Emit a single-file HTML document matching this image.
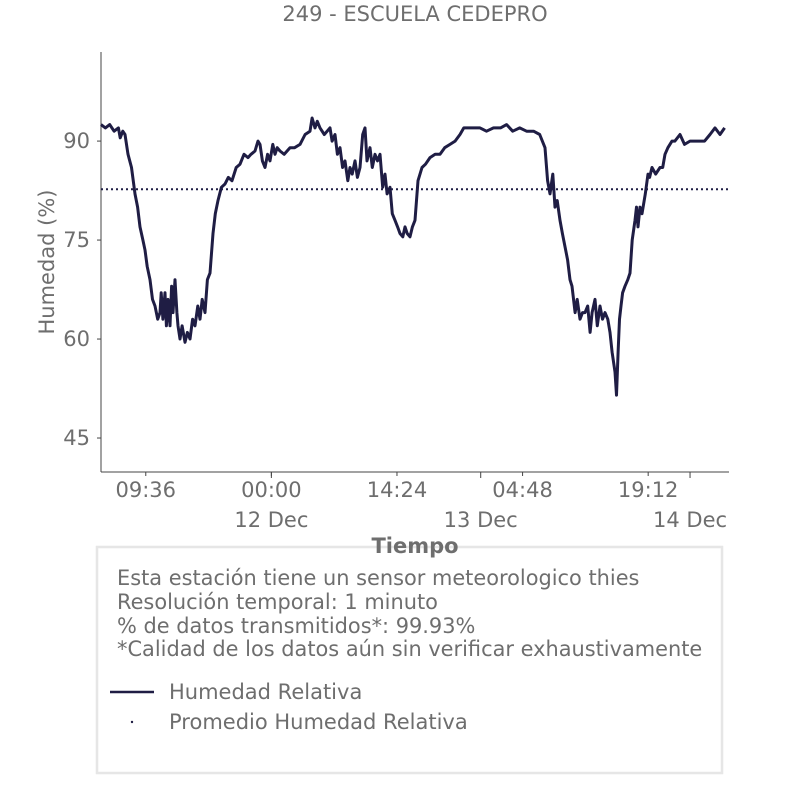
<!DOCTYPE html>
<html><head><meta charset="utf-8"><style>
body{margin:0;background:#fff;font-family:"Liberation Sans","DejaVu Sans",sans-serif}
svg text{font-family:"DejaVu Sans","Liberation Sans",sans-serif;fill:#6e6e6e}
</style></head><body>
<svg id="c" width="806" height="806" xmlns="http://www.w3.org/2000/svg">
<text x="415" y="21" text-anchor="middle" font-size="21">249 - ESCUELA CEDEPRO</text>
<g id="axes"></g>
<g id="plot"></g>
<text transform="translate(54,262) rotate(-90)" text-anchor="middle" font-size="21">Humedad (%)</text>
<rect x="97" y="547" width="625" height="226" fill="#fff" stroke="#e6e6e6" stroke-width="2.5"/>
<text x="415" y="553" text-anchor="middle" font-size="21" font-weight="bold">Tiempo</text>
<g font-size="20.9">
<text x="117" y="585">Esta estación tiene un sensor meteorologico thies</text>
<text x="117" y="609">Resolución temporal: 1 minuto</text>
<text x="117" y="633">% de datos transmitidos*: 99.93%</text>
<text x="117" y="656">*Calidad de los datos aún sin verificar exhaustivamente</text>
</g>
<line x1="110" y1="692" x2="154" y2="692" stroke="#1f1d44" stroke-width="2.5"/>
<text x="169" y="699" font-size="21">Humedad Relativa</text>
<circle cx="132" cy="722" r="1.2" fill="#1f1d44"/>
<text x="169" y="729" font-size="21">Promedio Humedad Relativa</text>
</svg>
<script>
// hours since 11 Dec 04:28
const hours=[0,0.5,1.0,1.5,2.0,2.2,2.5,2.75,3.1,3.5,3.9,4.2,4.47,4.8,5.04,5.3,5.62,5.9,6.19,6.5,6.76,6.9,7.1,7.34,7.5,7.68,7.91,8.1,8.25,8.48,8.7,8.83,9.06,9.3,9.63,9.9,10.2,10.5,10.78,11.1,11.35,11.6,11.92,12.2,12.5,12.84,13.1,13.41,13.8,14.22,14.6,15.02,15.5,15.94,16.4,16.85,17.2,17.66,18.0,18.23,18.5,18.8,19.1,19.38,19.7,19.95,20.2,20.52,21.0,21.67,22.2,22.82,23.4,23.96,24.2,24.54,24.8,25.11,25.6,26.25,26.5,26.83,27.1,27.4,27.7,27.97,28.3,28.55,28.8,29.12,29.4,29.69,30.0,30.27,30.5,30.84,31.1,31.41,31.7,31.99,32.3,32.56,32.8,33.13,33.4,33.71,34.0,34.28,34.6,34.85,35.1,35.43,35.7,36.0,36.34,36.8,37.2,37.72,38.3,38.87,39.4,40.01,40.6,41.16,41.6,42.08,42.8,43.45,44.2,45.0,45.8,46.5,47.2,48.0,48.8,49.6,50.3,50.9,51.2,51.48,51.8,52.05,52.3,52.62,52.9,53.2,53.5,53.77,54.0,54.35,54.6,54.92,55.2,55.49,55.8,56.07,56.3,56.64,56.9,57.21,57.5,57.78,58.1,58.36,58.6,58.93,59.1,59.28,59.45,59.62,59.8,60.08,60.4,60.65,60.9,61.22,61.4,61.57,61.8,62.03,62.4,62.71,62.9,63.17,63.6,64.09,64.4,64.66,65.0,65.46,65.8,66.38,66.9,67.53,68.1,68.67,69.2,69.82,70.4,70.97,71.5,72];
const humidity=[92.5,92,92.5,91.5,92,90.5,91.5,91,88,86,82,80,77,75,73.5,71,69,66,65,63,64,67,63,67,62,66,62,68,64,69,64,62,60,62,59.5,61,60,63,62,65,63,66,64,69,70,76,79,81,83,83.5,84.5,84,86,86.5,88,87.5,88,88.5,90,89.5,87,86,88,87,89.5,88,89,88.5,88,89,89,89.5,91,91.5,93.5,92,93,92,91,92,90,91,88,89,86,87,84,86,85,87,84.5,86,91,92,87,89,86,88,87,88,83,85,82,83,79,78,77,76,75.5,77,76,75.5,77,78,84,86,86.5,87.5,88,88,89,89.5,90,91,92,92,92,92,91.5,92,92,92.5,91.5,92,91.5,91.5,91,89,84,82,85,80,81,78,76,74,72,69,68,64,66,63,64,64,65,61,64,66,62,65,63,64,63,61,58,55,51.5,58,63,65,67,68,69,70,75,78,80,77,80,79,82,85,84.5,86,85,86,86,88,89,90,90,91,89.5,90,90,90,90,91,92,91,92];
const yTicks=[45,60,75,90];
const xTickLabels=["09:36","00:00","14:24","04:48","19:12"];
const xTickHours=[5.133,19.533,33.933,48.333,62.733];
const dayLabels=["12 Dec","13 Dec","14 Dec"];
const dayHours=[19.533,43.533,67.533];
const meanValue=82.7;

const X0=101,X1=729,Y0=52,Y1=472,T0=0,T1=72,V0=39.85,V1=103.5;
const sx=h=>X0+(h-T0)/(T1-T0)*(X1-X0);
const sy=v=>Y1-(v-V0)/(V1-V0)*(Y1-Y0);
const NS="http://www.w3.org/2000/svg";
const ax=document.getElementById('axes'),pl=document.getElementById('plot');
function mk(tag,at,parent){const e=document.createElementNS(NS,tag);for(const k in at)e.setAttribute(k,at[k]);parent.appendChild(e);return e;}
let e=mk('line',{x1:X0,y1:Y0,x2:X0,y2:Y1,stroke:'#444','stroke-width':1},ax);


e=mk('line',{x1:X0,y1:Y1,x2:X1,y2:Y1,stroke:'#444','stroke-width':1},ax);


yTicks.forEach(v=>{
 mk('line',{x1:X0-4,y1:sy(v),x2:X0,y2:sy(v),stroke:'#444'},ax);
 const t=mk('text',{x:X0-11,y:sy(v)+7,'text-anchor':'end','font-size':21},ax);t.textContent=v;
 
 
});
xTickHours.forEach((h,i)=>{
 mk('line',{x1:sx(h),y1:Y1,x2:sx(h),y2:Y1+4,stroke:'#444'},ax);
 const t=mk('text',{x:sx(h),y:Y1+25,'text-anchor':'middle','font-size':21},ax);t.textContent=xTickLabels[i];
 
 
});
dayHours.forEach((h,i)=>{
 mk('line',{x1:sx(h),y1:Y1,x2:sx(h),y2:Y1+6,stroke:'#444'},ax);
 const t=mk('text',{x:sx(h),y:Y1+55,'text-anchor':'middle','font-size':21},ax);t.textContent=dayLabels[i];
 
 
});
const n=Math.min(hours.length,humidity.length);
const pts=[];for(let i=0;i<n;i++)pts.push(sx(hours[i]).toFixed(1)+','+sy(humidity[i]).toFixed(1));
e=mk('polyline',{points:pts.join(' '),fill:'none',stroke:'#1f1d44','stroke-width':3,'stroke-linejoin':'round'},pl);


e=mk('line',{x1:X0,y1:sy(meanValue),x2:X1,y2:sy(meanValue),stroke:'#1f1d44','stroke-width':2,'stroke-dasharray':'2,3'},pl);


</script>
</body></html>
